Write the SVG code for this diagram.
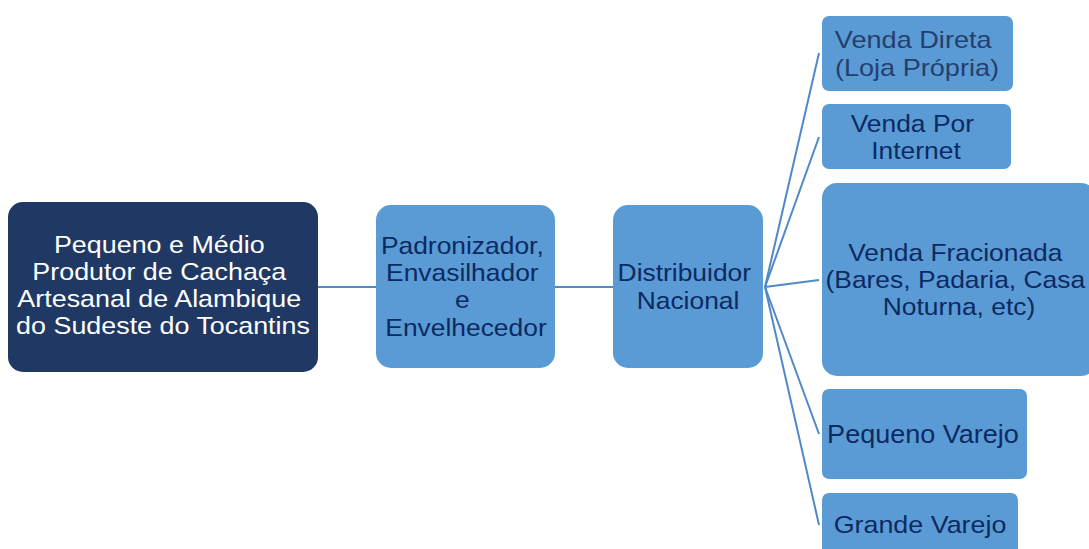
<svg xmlns="http://www.w3.org/2000/svg" width="1089" height="549" viewBox="0 0 1089 549">
  <style>
    .lbl { font-family: "Liberation Sans", Arial, sans-serif; font-size: 24px; text-anchor: middle; }
    .dark { fill: #1F3864; }
    .light { fill: #5B9BD5; }
    .wt { fill: #FFFFFF; }
    .nv { fill: #0C2A62; }
    .nv2 { fill: #243F6E; }
    .conn { stroke: #4F89C6; stroke-width: 2; fill: none; }
  </style>
  <rect width="1089" height="549" fill="#FFFFFF"/>

  <!-- connectors -->
  <g id="connectors" class="conn">
    <line x1="318" y1="287" x2="377" y2="287"/>
    <line x1="555" y1="287" x2="613" y2="287"/>
    <line x1="765" y1="287" x2="819" y2="53"/>
    <line x1="765" y1="287" x2="819" y2="137"/>
    <line x1="765" y1="287" x2="819" y2="280"/>
    <line x1="765" y1="287" x2="819" y2="434"/>
    <line x1="765" y1="287" x2="819" y2="525"/>
  </g>

  <g id="produtor">
    <rect class="dark" x="8" y="202" width="310" height="170" rx="15"/>
    <text class="lbl wt" transform="translate(163 0) scale(1.12 1)">
      <tspan x="0" y="253">Pequeno e Médio</tspan>
      <tspan x="0" y="280">Produtor de Cachaça</tspan>
      <tspan x="0" y="307">Artesanal de Alambique</tspan>
      <tspan x="0" y="334">do Sudeste do Tocantins</tspan>
    </text>
  </g>

  <g id="padronizador">
    <rect class="light" x="376" y="205" width="179" height="163" rx="15"/>
    <text class="lbl nv" transform="translate(466 0) scale(1.1 1)">
      <tspan x="0" y="254">Padronizador,</tspan>
      <tspan x="0" y="281">Envasilhador</tspan>
      <tspan x="0" y="308">e</tspan>
      <tspan x="0" y="336">Envelhecedor</tspan>
    </text>
  </g>

  <g id="distribuidor">
    <rect class="light" x="613" y="205" width="150" height="163" rx="15"/>
    <text class="lbl nv" transform="translate(688 0) scale(1.1 1)">
      <tspan x="0" y="281">Distribuidor</tspan>
      <tspan x="0" y="309">Nacional</tspan>
    </text>
  </g>

  <g id="venda-direta">
    <rect class="light" x="822" y="16" width="191" height="75" rx="7"/>
    <text class="lbl nv2" transform="translate(917 0) scale(1.13 1)">
      <tspan x="0" y="48">Venda Direta</tspan>
      <tspan x="0" y="76">(Loja Própria)</tspan>
    </text>
  </g>

  <g id="venda-internet">
    <rect class="light" x="822" y="104" width="189" height="65" rx="7"/>
    <text class="lbl nv" transform="translate(916 0) scale(1.1 1)">
      <tspan x="0" y="132">Venda Por</tspan>
      <tspan x="0" y="159">Internet</tspan>
    </text>
  </g>

  <g id="venda-fracionada">
    <rect class="light" x="822" y="183" width="274" height="193" rx="15"/>
    <text class="lbl nv" transform="translate(959 0) scale(1.1 1)">
      <tspan x="0" y="261">Venda Fracionada</tspan>
      <tspan x="0" y="288">(Bares, Padaria, Casa</tspan>
      <tspan x="0" y="315">Noturna, etc)</tspan>
    </text>
  </g>

  <g id="pequeno-varejo">
    <rect class="light" x="822" y="389" width="205" height="90" rx="7"/>
    <text class="lbl nv" style="font-size:25.5px" transform="translate(923 0) scale(1.06 1)">
      <tspan x="0" y="443">Pequeno Varejo</tspan>
    </text>
  </g>

  <g id="grande-varejo">
    <rect class="light" x="822" y="493" width="196" height="80" rx="7"/>
    <text class="lbl nv" transform="translate(920 0) scale(1.12 1)">
      <tspan x="0" y="533">Grande Varejo</tspan>
    </text>
  </g>
</svg>
